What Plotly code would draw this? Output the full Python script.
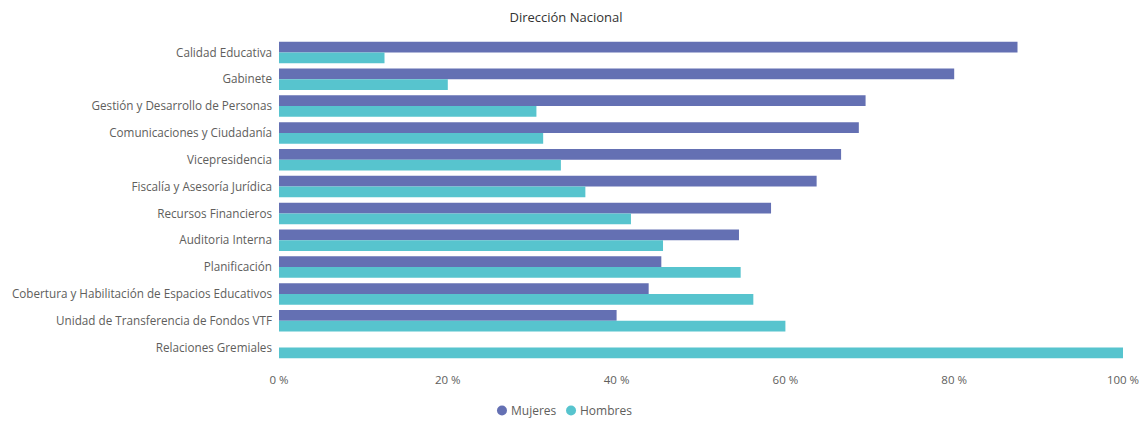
import plotly.graph_objects as go

# Datos
areas = [
    "Calidad Educativa",
    "Gabinete",
    "Gestión y Desarrollo de Personas",
    "Comunicaciones y Ciudadanía",
    "Vicepresidencia",
    "Fiscalía y Asesoría Jurídica",
    "Recursos Financieros",
    "Auditoria Interna",
    "Planificación",
    "Cobertura y Habilitación de Espacios Educativos",
    "Unidad de Transferencia de Fondos VTF",
    "Relaciones Gremiales",
]
mujeres = [87.5, 80.0, 69.5, 68.7, 66.6, 63.7, 58.3, 54.5, 45.3, 43.8, 40.0, 0.0]
hombres = [12.5, 20.0, 30.5, 31.3, 33.4, 36.3, 41.7, 45.5, 54.7, 56.2, 60.0, 100.0]
ticks = [0, 20, 40, 60, 80, 100]

c_muj = "#6470B3"
c_hom = "#57C4CE"
txt = "#605E5C"
fuente = "Open Sans, Segoe UI, sans-serif"

fig = go.Figure()
fig.add_trace(go.Bar(y=areas, x=mujeres, orientation="h", name="Mujeres",
                     marker=dict(color=c_muj, line=dict(width=0))))
fig.add_trace(go.Bar(y=areas, x=hombres, orientation="h", name="Hombres",
                     marker=dict(color=c_hom, line=dict(width=0))))

# leyenda compacta: círculo + texto
ley_y = -0.154
for nombre, col, xc, xt in [("Mujeres", c_muj, 0.2642, 0.2725),
                            ("Hombres", c_hom, 0.346, 0.3543)]:
    fig.add_shape(type="circle", xref="paper", yref="paper",
                  xsizemode="pixel", ysizemode="pixel", xanchor=xc, yanchor=ley_y,
                  x0=-5, x1=5, y0=-5, y1=5, fillcolor=col, line=dict(width=0))
    fig.add_annotation(text=nombre, xref="paper", yref="paper", x=xt, y=ley_y,
                       xanchor="left", yanchor="middle", showarrow=False,
                       font=dict(size=12, color=txt))

# la página tiene 8px de margen en el body
fig.update_layout(
    width=1140, height=413,
    margin=dict(l=271, r=25, t=31, b=60),
    paper_bgcolor="white", plot_bgcolor="white",
    barmode="group", bargap=0.2, bargroupgap=0,
    showlegend=False,
    font=dict(family=fuente, color=txt, size=12),
    title=dict(text="Dirección Nacional", x=0.4895, xref="container", xanchor="center",
               y=0.978, yanchor="middle", font=dict(size=13, color="#333333")),
)
fig.update_xaxes(range=[0, 100], tickvals=ticks, ticktext=[f"{t} %" for t in ticks],
                 showgrid=False, zeroline=False, showline=False, automargin=False,
                 ticklabelstandoff=10, tickfont=dict(size=11.5, color=txt))
fig.update_yaxes(autorange="reversed", showgrid=False, showline=False, automargin=False,
                 ticks="", ticklabelstandoff=6, tickfont=dict(size=11.7, color=txt))

fig.write_html("out.html")
